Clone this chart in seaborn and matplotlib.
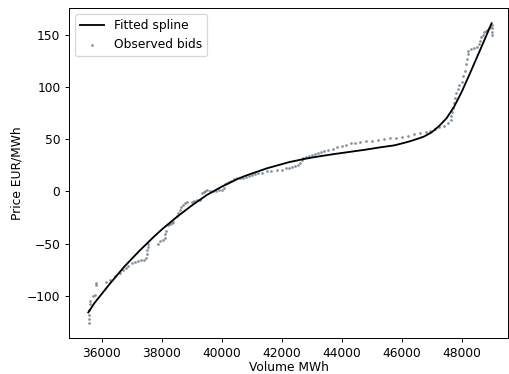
import matplotlib
matplotlib.use("Agg")
import matplotlib.pyplot as plt
import seaborn as sns

# Fitted spline
spline_volume = [35543, 35750, 36000, 36250, 36500, 36750, 37000, 37250, 37500, 37750,
                 38000, 38250, 38500, 38750, 39000, 39250, 39500, 39750, 40000, 40250,
                 40500, 40750, 41000, 41250, 41500, 41750, 42000, 42250, 42500, 42750,
                 43000, 43250, 43500, 43750, 44000, 44250, 44500, 44750, 45000, 45250,
                 45500, 45750, 46000, 46250, 46500, 46750, 47000, 47250, 47500, 47750,
                 48000, 48250, 48500, 48750, 49003]
spline_price = [-116, -107, -98, -89, -80.5, -72, -64.5, -57, -50, -43,
                -36.5, -30.5, -24.5, -19, -13.5, -8.5, -3.5, 0.5, 4.5, 8,
                11.5, 14.5, 17, 19.5, 22, 24, 26, 28, 29.5, 31,
                32.3, 33.5, 34.6, 35.7, 36.7, 37.7, 38.7, 39.7, 40.8, 42,
                43, 44, 45.8, 47.7, 50, 52.5, 56.5, 62.5, 70, 81,
                95, 111, 127.5, 144, 161]

# Observed bids
bid_volume = [35570, 35570, 35575, 35580, 35600, 35610, 35700, 35760, 35790, 35795,
              36150, 36270, 36450, 36600, 36710, 36800, 36880, 36990, 37100, 37210,
              37300, 37400, 37480, 37500, 37510, 37530, 37545, 37870, 37950, 38050,
              38100, 38120, 38150, 38210, 38270, 38330, 38380, 38490, 38540, 38600,
              38650, 38720, 38780, 38830, 38990, 39080, 39180, 39270, 39330, 39400,
              39450, 39500, 39600, 39700, 39800, 39900, 40000, 40080, 40120, 40180,
              40250, 40320, 40400, 40500, 40600, 40700, 40800, 40900, 41000, 41100,
              41200, 41350, 41500, 41650, 41850, 42000, 42150, 42250, 42350, 42450,
              42550, 42620, 42680, 42720, 42800, 42900, 43000, 43100, 43200, 43300,
              43400, 43550, 43700, 43850, 44000, 44150, 44300, 44450, 44600, 44800,
              45000, 45200, 45400, 45600, 45800, 46000, 46200, 46400, 46600, 46800,
              46950, 47100, 47250, 47400, 47550, 47650, 47660, 47680, 47720, 47750,
              47780, 47830, 47880, 47930, 48000, 48050, 48110, 48150, 48170, 48200,
              48230, 48300, 48400, 48500, 48580, 48620, 48660, 48700, 48750, 48800,
              48850, 48900, 48950, 49000, 49000, 49000, 49000]
bid_price = [-126, -122, -118, -114, -108, -105, -100, -99, -90, -88,
             -87, -85, -81, -78, -75, -73, -72, -69, -68, -67,
             -66, -66, -64, -60, -56, -53, -50, -50, -48, -47,
             -45, -41, -38, -32, -31, -30, -29, -24, -21, -18,
             -15, -13, -11, -10, -10, -9, -8, -8, -2, -1,
             0, 1, 0, 0, 0, 1, 1, 3, 7, 8,
             9, 10, 12, 13, 13, 13, 14, 15, 16, 17,
             18, 18, 19, 19, 20, 20, 22, 22, 23, 24,
             25, 27, 30, 32, 33, 34, 35, 36, 37, 38,
             39, 40, 41, 42, 43, 44, 46, 46, 47, 48,
             48, 49, 50, 51, 51, 52, 53, 55, 56, 57,
             58, 60, 62, 63, 65, 68, 72, 76, 80, 85,
             89, 94, 98, 102, 105, 110, 115, 122, 127, 132,
             134, 136, 137, 138, 141, 144, 148, 150, 153, 154,
             155, 156, 157, 150, 153, 156, 159]

DPI = 88
fig = plt.figure(figsize=(509 / DPI, 374 / DPI), dpi=DPI)
ax = fig.add_axes([69 / 509, 1 - 338 / 374, 439 / 509, 330 / 374])

sns.lineplot(x=spline_volume, y=spline_price, ax=ax, color="black", linewidth=1.5,
             label="Fitted spline", zorder=3)
sns.scatterplot(x=bid_volume, y=bid_price, ax=ax, color="#708090", s=5, linewidth=0,
                alpha=0.85, label="Observed bids", zorder=2)

ax.set_xlim(34900, 49550)
ax.set_ylim(-140.5, 175.6)
ax.set_xticks([36000, 38000, 40000, 42000, 44000, 46000, 48000])
ax.set_yticks([-100, -50, 0, 50, 100, 150])
ax.set_xlabel("Volume MWh", labelpad=1)
ax.set_ylabel("Price EUR/MWh", labelpad=3)
ax.legend(loc="upper left")

fig.savefig("out.png", dpi=DPI)
